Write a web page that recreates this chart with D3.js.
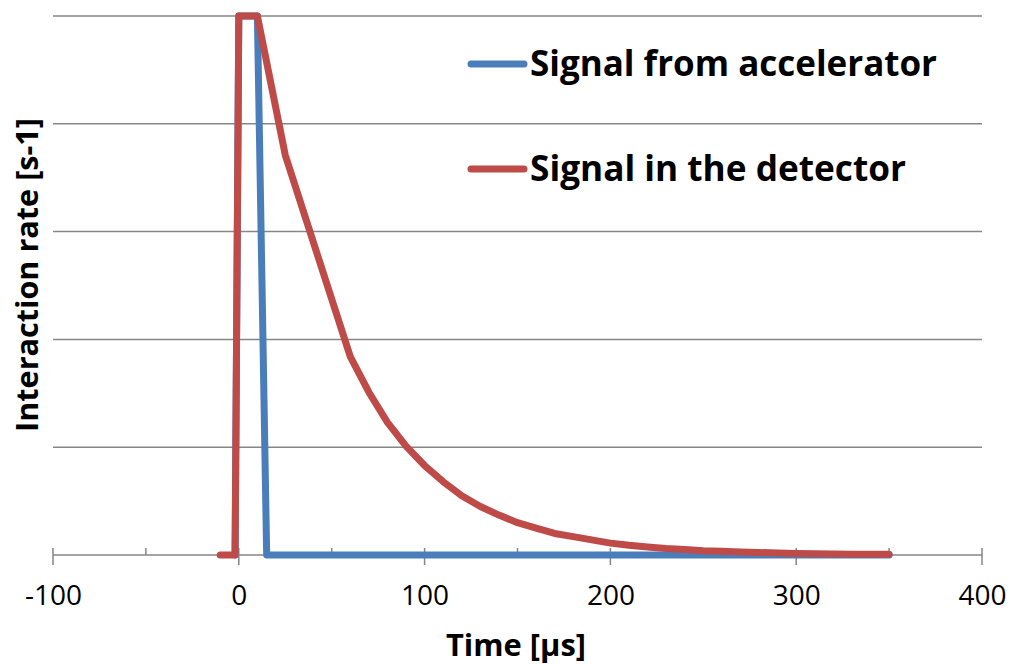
<!DOCTYPE html>
<html>
<head>
<meta charset="utf-8">
<script src="https://cdn.jsdelivr.net/npm/d3@7"></script>
<style>
  body { margin: 0; background: #fff; }
  text { font-family: "Open Sans", sans-serif; }
</style>
</head>
<body>
<div id="chart"></div>
<script>
// time axis values (µs)
var xTicks = [-100, 0, 100, 200, 300, 400];
var xMinorTicks = [-50, 50, 150, 250, 350];
var yGrid = [1, 2, 3, 4, 5];

// accelerator pulse
var accelT = [-2, 0, 10, 15, 350];
var accelV = [0, 5, 5, 0, 0];

// detector response
var detT = [-10, -2, 0, 10, 25, 60, 70, 80, 90, 100, 110, 120, 130, 140, 150, 160, 170, 180, 190,
    200, 210, 220, 230, 240, 250, 260, 270, 280, 290, 300, 310, 320, 330, 340, 350];
var detV = [0, 0, 5, 5, 3.71, 1.84, 1.51, 1.23, 1.01, 0.83, 0.68, 0.55, 0.45, 0.37, 0.30, 0.25, 0.20, 0.17, 0.14,
    0.11, 0.09, 0.075, 0.06, 0.05, 0.04, 0.034, 0.028, 0.023, 0.019, 0.015, 0.012, 0.01, 0.008, 0.007, 0.006];

var seriesNames = ["Signal from accelerator", "Signal in the detector"];
var colors = ["#4a7ebb", "#be4b48"];

var svgWidth = 1010;
var svgHeight = 664;

var svg = d3.select("#chart")
    .append("svg")
    .attr("width", svgWidth)
    .attr("height", svgHeight);

var x = d3.scaleLinear().domain([-100, 400]).range([53, 982]);
var y = d3.scaleLinear().domain([0, 5]).range([555, 16]);

var grey = "#868686";

// gridlines
svg.append("g")
    .selectAll("line")
    .data(yGrid)
    .enter().append("line")
    .attr("x1", x(-100))
    .attr("x2", x(400))
    .attr("y1", function (d) { return y(d); })
    .attr("y2", function (d) { return y(d); })
    .attr("stroke", grey)
    .attr("stroke-width", 1.5);

// x axis
var bottomAxis = d3.axisBottom(x)
    .tickValues(xTicks)
    .tickSize(0)
    .tickPadding(0)
    .tickFormat(function (d) { return String(d); });

var axisG = svg.append("g")
    .attr("transform", "translate(0," + y(0) + ")")
    .call(bottomAxis);
axisG.select(".domain").remove();
axisG.selectAll("text")
    .attr("y", 50)
    .attr("dy", null)
    .style("font-family", "'Open Sans', sans-serif")
    .style("font-size", "28px")
    .attr("fill", "#000");

axisG.append("line")
    .attr("x1", x(-100))
    .attr("x2", x(400))
    .attr("stroke", grey)
    .attr("stroke-width", 1.5);

axisG.selectAll(".major")
    .data(xTicks)
    .enter().append("line")
    .attr("class", "major")
    .attr("x1", function (d) { return x(d); })
    .attr("x2", function (d) { return x(d); })
    .attr("y1", -7)
    .attr("y2", 10)
    .attr("stroke", grey)
    .attr("stroke-width", 1.5);

axisG.selectAll(".minor")
    .data(xMinorTicks)
    .enter().append("line")
    .attr("class", "minor")
    .attr("x1", function (d) { return x(d); })
    .attr("x2", function (d) { return x(d); })
    .attr("y1", -7)
    .attr("y2", 0)
    .attr("stroke", grey)
    .attr("stroke-width", 1.5);

// lines
var line = d3.line()
    .x(function (d) { return x(d[0]); })
    .y(function (d) { return y(d[1]); });

var accel = d3.zip(accelT, accelV);
var det = d3.zip(detT, detV);

[accel, det].forEach(function (s, i) {
    svg.append("path")
        .datum(s)
        .attr("d", line)
        .attr("fill", "none")
        .attr("stroke", colors[i])
        .attr("stroke-width", 7)
        .attr("stroke-linejoin", "round")
        .attr("stroke-linecap", "round");
});

// legend
var legendY = [64, 169];
seriesNames.forEach(function (name, i) {
    svg.append("line")
        .attr("x1", 471)
        .attr("x2", 524)
        .attr("y1", legendY[i])
        .attr("y2", legendY[i])
        .attr("stroke", colors[i])
        .attr("stroke-width", 7)
        .attr("stroke-linecap", "round");
    svg.append("text")
        .attr("x", 530)
        .attr("y", legendY[i] + 12)
        .attr("font-size", 35)
        .attr("font-weight", "bold")
        .attr("textLength", i === 0 ? 407 : 376)
        .attr("lengthAdjust", "spacingAndGlyphs")
        .text(name);
});

// axis titles
svg.append("text")
    .attr("x", 516)
    .attr("y", 656)
    .attr("text-anchor", "middle")
    .attr("font-size", 31)
    .attr("font-weight", "bold")
    .attr("textLength", 140)
    .attr("lengthAdjust", "spacingAndGlyphs")
    .text("Time [µs]");

svg.append("text")
    .attr("transform", "translate(38,275) rotate(-90)")
    .attr("text-anchor", "middle")
    .attr("font-size", 30)
    .attr("font-weight", "bold")
    .attr("textLength", 314)
    .attr("lengthAdjust", "spacingAndGlyphs")
    .text("Interaction rate [s-1]");
</script>
</body>
</html>
